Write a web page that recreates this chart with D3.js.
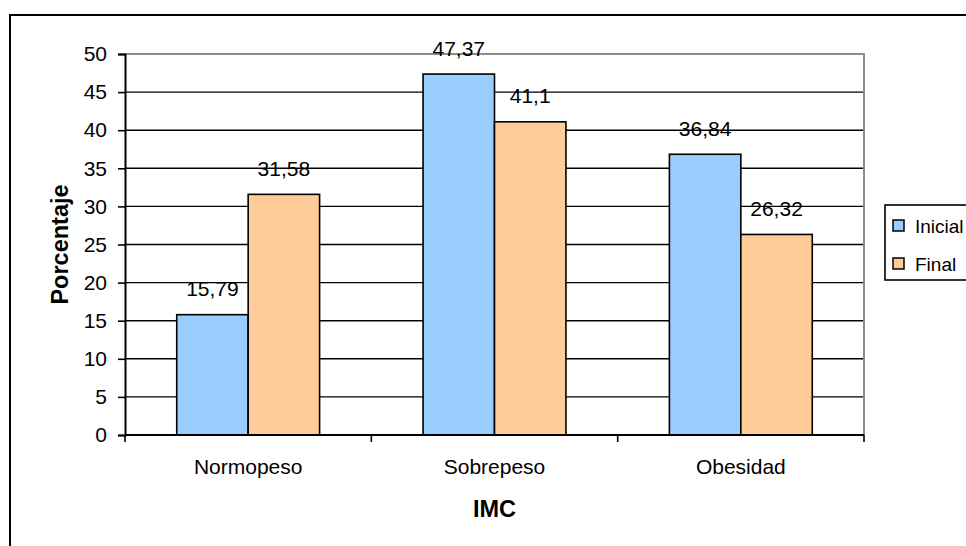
<!DOCTYPE html>
<html>
<head>
<meta charset="utf-8">
<script src="https://cdn.jsdelivr.net/npm/d3@7"></script>
<style>
  html, body { margin: 0; padding: 0; background: #fff; }
  svg { display: block; font-family: "Liberation Sans", Arial, sans-serif; }
</style>
</head>
<body>
<svg id="chart" width="966" height="546"></svg>
<script>
// IMC categories and percentages at the start and at the end
const categories = ["Normopeso", "Sobrepeso", "Obesidad"];
const seriesNames = ["Inicial", "Final"];
const inicial = [15.79, 47.37, 36.84];
const final = [31.58, 41.1, 26.32];
const yTicks = [0, 5, 10, 15, 20, 25, 30, 35, 40, 45, 50];
const colors = ["#99CCFF", "#FFCC99"];

const svg = d3.select("#chart");
const plot = { left: 125, top: 54, right: 864, bottom: 435 };

// outer chart frame (runs past the page edge on the right and bottom)
svg.append("rect")
  .attr("x", 10).attr("y", 15)
  .attr("width", 1000).attr("height", 600)
  .attr("fill", "none").attr("stroke", "#000").attr("stroke-width", 2);

const x0 = d3.scaleBand().domain(categories)
  .range([plot.left, plot.right]).paddingInner(0.42).paddingOuter(0.21);
const x1 = d3.scaleBand().domain(seriesNames).range([0, x0.bandwidth()]);
const y = d3.scaleLinear().domain([0, 50]).range([plot.bottom, plot.top]);

// horizontal gridlines
svg.append("g").selectAll("line")
  .data(yTicks.filter(t => t > 0 && t < 50))
  .join("line")
  .attr("x1", plot.left).attr("x2", plot.right)
  .attr("y1", d => y(d)).attr("y2", d => y(d))
  .attr("stroke", "#000").attr("stroke-width", 1.4);

// plot area frame: grey top and right edges
svg.append("path")
  .attr("d", `M${plot.left},${y(50)}H${plot.right}V${plot.bottom}`)
  .attr("fill", "none").attr("stroke", "#8c8c8c").attr("stroke-width", 2);

// bars
const rows = categories.map((c, i) => ({ cat: c, values: [inicial[i], final[i]] }));
const groups = svg.append("g").selectAll("g")
  .data(rows).join("g")
  .attr("transform", d => `translate(${x0(d.cat)},0)`);

groups.selectAll("rect")
  .data(d => d.values.map((v, j) => ({ name: seriesNames[j], value: v, j })))
  .join("rect")
  .attr("x", d => x1(d.name))
  .attr("y", d => y(d.value))
  .attr("width", x1.bandwidth())
  .attr("height", d => y(0) - y(d.value))
  .attr("fill", d => colors[d.j])
  .attr("stroke", "#000").attr("stroke-width", 1.6);

// value labels
const fmt = v => String(v).replace(".", ",");
groups.selectAll("text")
  .data(d => d.values.map((v, j) => ({ name: seriesNames[j], value: v })))
  .join("text")
  .attr("x", d => x1(d.name) + x1.bandwidth() / 2)
  .attr("y", d => y(d.value) - 18.5)
  .attr("text-anchor", "middle")
  .attr("font-size", 21)
  .attr("fill", "#000")
  .text(d => fmt(d.value));

// y axis
const yAxis = d3.axisLeft(y).tickValues(yTicks).tickSize(7).tickPadding(11);
const gy = svg.append("g").attr("transform", `translate(${plot.left},0)`).call(yAxis);
gy.select(".domain").attr("stroke", "#000").attr("stroke-width", 2);
gy.selectAll(".tick line").attr("stroke", "#000").attr("stroke-width", 1.6);
gy.selectAll(".tick text").attr("font-size", 21).attr("fill", "#000")
  .attr("font-family", "Liberation Sans, Arial, sans-serif");

// x axis: line, boundary ticks and category labels
const gx = svg.append("g");
gx.append("line")
  .attr("x1", plot.left).attr("x2", plot.right)
  .attr("y1", plot.bottom).attr("y2", plot.bottom)
  .attr("stroke", "#000").attr("stroke-width", 2);
const step = x0.step();
const bounds = d3.range(categories.length + 1).map(i => plot.left + i * step);
gx.selectAll("line.tk").data(bounds).join("line").attr("class", "tk")
  .attr("x1", d => d).attr("x2", d => d)
  .attr("y1", plot.bottom).attr("y2", plot.bottom + 7)
  .attr("stroke", "#000").attr("stroke-width", 1.6);
gx.selectAll("text").data(categories).join("text")
  .attr("x", d => x0(d) + x0.bandwidth() / 2)
  .attr("y", 474)
  .attr("text-anchor", "middle")
  .attr("font-size", 21)
  .text(d => d);

// axis titles
svg.append("text")
  .attr("x", (plot.left + plot.right) / 2).attr("y", 517)
  .attr("text-anchor", "middle")
  .attr("font-size", 23.5).attr("font-weight", "bold")
  .text("IMC");
svg.append("text")
  .attr("transform", `translate(68,${(plot.top + plot.bottom) / 2}) rotate(-90)`)
  .attr("text-anchor", "middle")
  .attr("font-size", 23.5).attr("font-weight", "bold")
  .text("Porcentaje");

// legend
const legend = svg.append("g").attr("transform", "translate(885,205)");
legend.append("rect")
  .attr("width", 120).attr("height", 75)
  .attr("fill", "#fff").attr("stroke", "#000").attr("stroke-width", 1.6);
const items = legend.selectAll("g.item").data(seriesNames).join("g").attr("class", "item")
  .attr("transform", (d, i) => `translate(0,${15 + i * 38})`);
items.append("rect")
  .attr("x", 8).attr("y", 0).attr("width", 11).attr("height", 11)
  .attr("fill", (d, i) => colors[i]).attr("stroke", "#000").attr("stroke-width", 1.5);
items.append("text")
  .attr("x", 30).attr("y", 13)
  .attr("font-size", 19)
  .text(d => d);
</script>
</body>
</html>
